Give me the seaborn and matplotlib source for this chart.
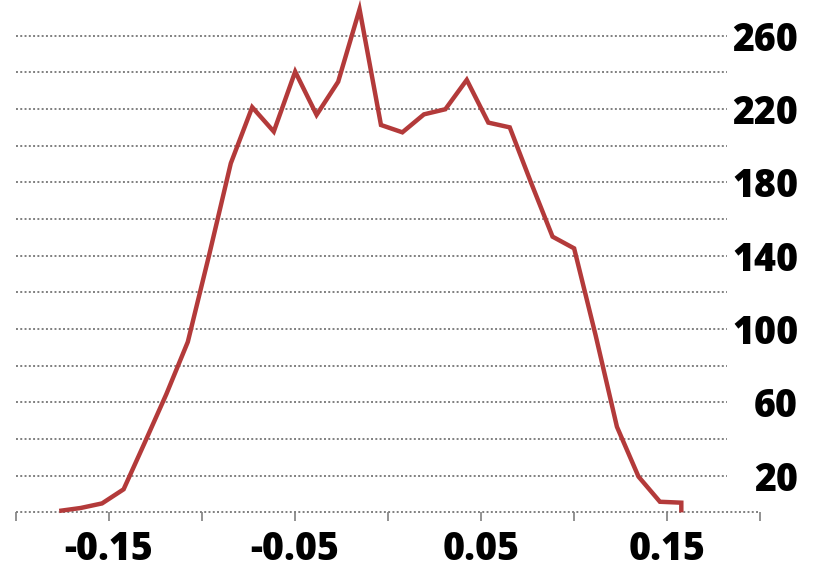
import matplotlib
matplotlib.use("Agg")
import matplotlib.pyplot as plt
import seaborn as sns
import numpy as np
import pandas as pd

# ---- data ----
x_vals = [-0.1766, -0.1651, -0.1536, -0.1420, -0.1305, -0.1190, -0.1075, -0.0959,
          -0.0844, -0.0729, -0.0613, -0.0498, -0.0383, -0.0267, -0.0152, -0.0037,
          0.0078, 0.0194, 0.0309, 0.0424, 0.0540, 0.0655, 0.0770, 0.0885,
          0.1001, 0.1116, 0.1231, 0.1347, 0.1462, 0.1577, 0.1577]
counts = [0.8, 2.4, 4.9, 12.6, 38.4, 64.6, 93.0, 141.0,
          190.4, 221.0, 207.7, 240.4, 216.8, 234.9, 274.4, 211.3,
          207.3, 217.1, 219.9, 235.9, 212.6, 210.0, 179.7, 150.4,
          144.0, 96.8, 46.7, 19.5, 5.8, 5.3, 0.0]
x_ticks_labeled = [-0.15, -0.05, 0.05, 0.15]
x_tick_labels = ["-0.15", "-0.05", "0.05", "0.15"]
x_ticks_minor = [-0.2, -0.1, 0.0, 0.1, 0.2]
y_ticks = [20, 60, 100, 140, 180, 220, 260]
y_grid = [20, 40, 60, 80, 100, 120, 140, 160, 180, 200, 220, 240, 260]

df = pd.DataFrame({"x": x_vals, "count": counts})

sns.set_theme(style="white")
plt.rcParams["font.family"] = ["Open Sans", "DejaVu Sans"]

fig = plt.figure(figsize=(8.3, 5.78), dpi=100)
ax = fig.add_axes([0.0189, 0.1135, 0.8968, 0.885])

line_color = "#b33a3a"
grid_color = "#7f7f7f"

for g in y_grid:
    ax.axhline(g, xmin=0, xmax=0.956, color=grid_color, lw=1.4,
               linestyle=(0, (1, 1.2)), zorder=1)
ax.axhline(0, xmin=0, xmax=1, color=grid_color, lw=1.4,
           linestyle=(0, (1, 1.2)), zorder=1, clip_on=False)

sns.lineplot(data=df, x="x", y="count", ax=ax, estimator=None, sort=False,
             color=line_color, lw=3.2, zorder=3)
for ln in ax.lines[-1:]:
    ln.set_clip_on(False)
    ln.set_solid_capstyle("butt")
    ln.set_solid_joinstyle("miter")

ax.set_xlim(-0.2, 0.2)
ax.set_ylim(0, 279)

for s in ax.spines.values():
    s.set_visible(False)

ax.set_xticks(x_ticks_labeled)
ax.set_xticklabels(x_tick_labels)
ax.set_xticks(x_ticks_minor, minor=True)
ax.tick_params(axis="x", which="both", bottom=True, length=6.5, width=1.2,
               color=grid_color, direction="out", pad=6)
ax.tick_params(axis="x", which="major", labelsize=27, labelcolor="black")
for lbl in ax.get_xticklabels():
    lbl.set_fontweight(800)

ax.set_yticks(y_ticks)
ax.set_yticklabels([str(v) for v in y_ticks])
ax.tick_params(axis="y", left=False, labelleft=False, right=False,
               labelright=True, length=0, pad=27.5, labelsize=27,
               labelcolor="black")
for lbl in ax.get_yticklabels():
    lbl.set_fontweight(800)
    lbl.set_horizontalalignment("right")

ax.set_xlabel("")
ax.set_ylabel("")
ax.grid(False)

fig.savefig("out.png", dpi=100)
